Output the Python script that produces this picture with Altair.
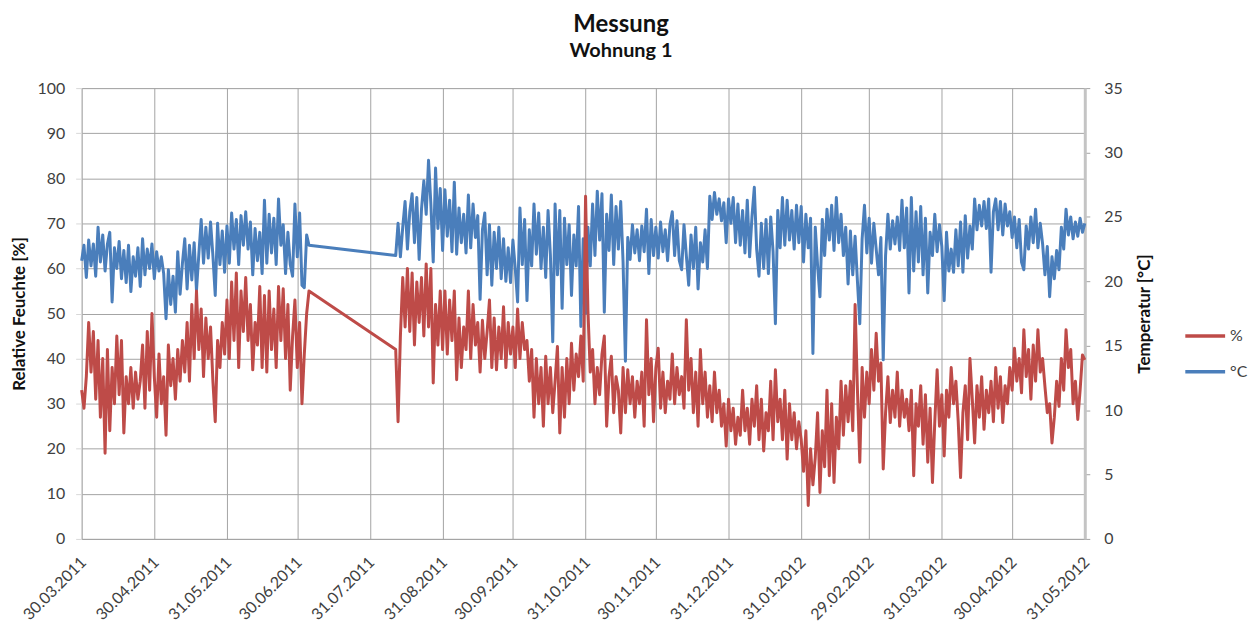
import altair as alt
import pandas as pd

# ---- data (daily readings) ----
SERIES = ["%", "°C"]
COLORS = ["#BE4B48", "#4A7EBB"]

SEG1_START = "2011-03-30"   # first measuring period
SEG2_START = "2011-08-11"   # second measuring period (after the gap)

TEMP_SEG1 = [
    21.6, 22.8, 20.3, 23.2, 21.2, 22.9, 20.4, 24.2, 21.5, 23.6,
    20.8, 22.9, 23.8, 18.4, 22.6, 21.0, 23.1, 20.2, 22.4, 19.9,
    22.8, 19.2, 21.9, 20.4, 22.6, 19.6, 23.3, 20.5, 22.5, 21.0,
    22.9, 20.2, 22.3, 20.8, 21.9, 20.6, 17.1, 20.9, 18.2, 20.4,
    17.6, 22.3, 19.0, 21.4, 23.3, 19.4, 22.8, 20.1, 23.0, 19.3,
    22.1, 24.8, 21.4, 24.2, 21.8, 24.6, 22.0, 18.9, 24.5, 21.3,
    23.9, 20.7, 24.3, 21.4, 25.3, 22.5, 24.8, 21.3, 25.1, 22.8,
    25.4, 22.5, 24.6, 20.5, 24.1, 21.6, 23.8, 20.6, 26.3, 21.4,
    25.2, 22.2, 24.9, 21.3, 26.4, 22.8, 24.4, 20.6, 23.8, 21.3,
    20.4, 26.0, 21.9, 25.3, 19.7, 19.5, 23.6, 22.8,
]

HUM_SEG1 = [
    33, 29, 36, 48, 37, 46, 31, 44, 27, 40,
    19, 42, 24, 38, 30, 45, 32, 44, 23.5, 36,
    30, 38, 29, 37, 31, 35, 43, 29, 46, 33,
    50, 36, 27, 41, 30, 36, 23, 43, 34, 40,
    31, 42, 35, 44, 37, 48, 35, 52, 40, 55,
    42, 51, 36, 49, 40, 47, 35, 26, 44, 38,
    48, 41, 53, 40, 57, 44, 59, 38, 55, 46,
    58, 44, 52, 37.5, 48, 43, 56, 38, 54, 37,
    55, 42, 51, 38, 56, 44, 55.5, 40, 52, 33,
    45, 53, 38, 48, 30, 41, 50, 55,
]

TEMP_SEG2 = [
    22.0, 24.5, 21.9, 24.2, 26.2, 22.5, 25.4, 26.8, 23.0, 26.5,
    21.7, 25.6, 27.8, 25.2, 29.4, 26.0, 21.5, 28.8, 24.1, 27.2,
    22.4, 27.1, 23.5, 26.3, 22.3, 27.7, 22.1, 25.7, 23.0, 25.2,
    22.2, 26.7, 22.6, 26.0, 23.4, 25.1, 18.6, 24.0, 25.3, 20.5,
    24.4, 19.7, 23.8, 21.0, 24.2, 20.2, 23.3, 20.0, 22.6, 19.9,
    23.2, 21.0, 18.4, 25.7, 21.3, 24.8, 18.5, 24.0, 21.2, 26.0,
    22.1, 25.3, 21.0, 24.2, 20.3, 25.5, 22.0, 15.3, 26.0, 20.5,
    25.5, 17.9, 24.9, 21.3, 24.4, 18.9, 23.6, 21.2, 25.8, 16.5,
    23.3, 17.5, 24.2, 21.2, 26.0, 22.0, 27.0, 23.2, 26.8, 17.6,
    25.2, 22.4, 26.7, 21.3, 25.8, 22.5, 26.2, 21.5, 13.8, 23.4,
    21.7, 24.4, 22.2, 24.0, 21.6, 24.3, 22.3, 25.6, 20.6, 24.8,
    22.0, 24.2, 21.8, 24.6, 22.3, 24.0, 21.6, 24.4, 25.4, 22.0,
    24.7, 21.6, 20.9, 24.4, 22.0, 19.7, 23.6, 21.0, 24.2, 19.4,
    23.0, 21.5, 24.0, 21.0, 26.6, 24.8, 26.9, 25.2, 26.4, 24.7,
    26.1, 23.0, 26.4, 24.5, 26.5, 23.0, 26.0, 22.8, 25.5, 22.2,
    26.3, 21.9, 25.0, 27.3, 22.5, 20.4, 24.5, 21.0, 24.8, 20.6,
    25.0, 22.3, 16.7, 25.5, 22.6, 26.5, 22.8, 26.3, 23.2, 25.5,
    22.5, 25.9, 23.0, 25.8, 21.5, 25.2, 22.6, 24.9, 14.4, 24.2,
    21.2, 18.8, 24.8, 22.0, 25.6, 23.2, 25.9, 22.4, 26.5, 23.0,
    25.2, 22.0, 24.2, 19.8, 23.9, 20.5, 23.5, 20.0, 16.7, 23.3,
    25.9, 22.2, 24.9, 21.4, 24.5, 22.5, 20.5, 23.4, 13.9, 22.0,
    25.2, 22.5, 24.7, 22.9, 25.0, 22.4, 26.3, 22.6, 25.7, 19.1,
    26.5, 20.8, 25.4, 21.5, 25.8, 20.5, 24.9, 19.1, 23.8, 22.0,
    25.2, 22.3, 24.4, 22.7, 18.5, 23.8, 20.8, 22.5, 20.7, 24.0,
    21.2, 24.6, 20.7, 25.1, 21.8, 24.3, 22.5, 26.4, 24.0, 25.9,
    24.3, 26.2, 24.1, 26.4, 20.7, 25.4, 26.4, 24.0, 26.2, 23.6,
    26.0, 24.3, 25.4, 23.4, 25.0, 22.6, 24.8, 21.5, 20.9, 24.3,
    22.5, 25.0, 23.0, 25.6, 22.6, 24.5, 22.9, 20.5, 22.7, 18.8,
    21.9, 20.2, 22.4, 20.9, 24.2, 22.5, 25.6, 23.6, 25.0, 23.3,
    24.6, 23.5, 24.9, 23.8, 24.5,
]

HUM_SEG2 = [
    42, 26, 45, 58, 47, 60, 46, 59, 43, 57,
    48, 58, 45, 61, 47, 60, 34.6, 52, 43, 55,
    42, 55, 41, 53, 44, 55, 35.3, 49, 38, 47,
    42, 55, 40, 52, 43, 48, 37, 48.5, 40, 46,
    53, 38, 49, 37.5, 47, 40, 51.5, 38, 48, 41,
    47, 38, 51, 40, 48, 42, 44, 35, 42, 27,
    40, 30, 38, 25, 40.5, 30, 38, 28, 35, 42.7,
    23.5, 38, 27, 40, 30, 43.4, 33, 41, 36, 45,
    35, 76, 50.8, 37, 42, 30, 38, 32, 41, 45,
    25, 36, 40.5, 28, 36, 33, 23.5, 38, 28, 37.5,
    30, 36, 27, 35, 30, 37, 25, 48.6, 32, 40,
    26, 38, 42.3, 29, 37, 28, 35, 31, 41, 30,
    38, 32, 36, 29, 48.6, 33, 40, 28, 37, 25,
    42, 30, 37, 27, 34, 26, 37, 28, 33, 25,
    30, 20.6, 31, 24, 29, 21, 27, 23, 33, 24,
    29, 21, 31, 25, 34, 22, 31, 19.5, 28, 24,
    35, 22, 37.5, 26, 31, 22, 33, 17.7, 30, 22,
    28, 20, 26, 22, 15, 24, 7.4, 20, 12, 18,
    28, 10.3, 24, 16, 33, 14, 30, 12.5, 27, 20,
    35, 23, 34, 26, 35, 24, 52, 33, 17, 38,
    27, 37, 30, 42, 33, 45.6, 35, 39, 15.5, 28,
    36, 25.8, 33, 27, 37, 25, 33, 27, 31, 24,
    33, 14, 30, 25, 34, 21, 32, 17, 29, 12.5,
    26, 37.5, 25, 32, 18.4, 33, 27, 38, 30, 35,
    26, 13.6, 28, 34, 22, 40, 31, 21.3, 34, 27,
    36, 24.3, 33, 28, 35, 26, 38, 29, 36, 25.8,
    34, 30, 38, 33, 42.3, 35, 40, 32.4, 46.4, 36,
    42, 31, 43, 35, 46.4, 37, 40, 33.8, 28, 30,
    21.3, 27, 35, 29.4, 40, 33, 46.4, 38, 42, 30,
    35, 26.5, 33, 40.8, 39.7,
]

# x-axis tick dates (month ends) as (year, month, day)
MONTH_TICKS = [
    (2011, 3, 30), (2011, 4, 30), (2011, 5, 31), (2011, 6, 30),
    (2011, 7, 31), (2011, 8, 31), (2011, 9, 30), (2011, 10, 31),
    (2011, 11, 30), (2011, 12, 31), (2012, 1, 31), (2012, 2, 29),
    (2012, 3, 31), (2012, 4, 30), (2012, 5, 31),
]
HUM_TICKS = list(range(0, 101, 10))
TEMP_TICKS = list(range(0, 36, 5))


def frame(seg1, seg2, name):
    d1 = pd.date_range(SEG1_START, periods=len(seg1), freq="D")
    d2 = pd.date_range(SEG2_START, periods=len(seg2), freq="D")
    return pd.DataFrame({
        "Datum": list(d1) + list(d2),
        "Wert": list(seg1) + list(seg2),
        "Serie": name,
    })


hum = frame(HUM_SEG1, HUM_SEG2, SERIES[0])
temp = frame(TEMP_SEG1, TEMP_SEG2, SERIES[1])

tick_dates = [alt.DateTime(year=y, month=m, date=d) for (y, m, d) in MONTH_TICKS]

FONT = "Lato"
GRID = "#a3a3a3"
LABEL = "#404040"
LINE_W = 3.0

x_enc = alt.X(
    "Datum:T",
    scale=alt.Scale(domain=[tick_dates[0], tick_dates[-1]], nice=False),
    axis=alt.Axis(
        values=tick_dates, format="%d.%m.%Y", title=None,
        labelAngle=-45, labelAlign="right", labelBaseline="top",
        labelPadding=15, labelOffset=-4, labelOverlap=False, labelFlush=False,
        labelFont=FONT, labelFontSize=16, labelColor=LABEL,
        ticks=False, grid=True, gridColor=GRID, gridWidth=1,
        domainColor=GRID, domainWidth=1,
    ),
)

color_enc = alt.Color(
    "Serie:N",
    scale=alt.Scale(domain=SERIES, range=COLORS),
    legend=alt.Legend(
        orient="none", legendX=1107, legendY=227, title=None,
        symbolType="stroke", symbolSize=1600, symbolStrokeWidth=3.5,
        labelFont=FONT, labelFontSize=16, labelColor=LABEL, labelOffset=3,
        rowPadding=6, padding=0,
    ),
)

temp_line = alt.Chart(temp).mark_line(
    strokeWidth=LINE_W, strokeJoin="round"
).encode(
    x=x_enc,
    y=alt.Y(
        "Wert:Q",
        scale=alt.Scale(domain=[0, 35], nice=False, zero=True),
        axis=alt.Axis(
            orient="right", values=TEMP_TICKS, title="Temperatur [°C]",
            grid=False, domainColor="#c4c4c4", domainWidth=3,
            tickColor=GRID, tickSize=5, labelPadding=14, labelFlush=False,
            labelFont=FONT, labelFontSize=16, labelColor=LABEL,
            titleFont=FONT, titleFontSize=17, titleFontWeight="bold", titleColor="#111111",
            titleAngle=-90, titleX=60, titleY=226.5, titleAlign="center",
            titleBaseline="middle",
        ),
    ),
    color=color_enc,
)

hum_line = alt.Chart(hum).mark_line(
    strokeWidth=LINE_W, strokeJoin="round"
).encode(
    x=x_enc,
    y=alt.Y(
        "Wert:Q",
        scale=alt.Scale(domain=[0, 100], nice=False, zero=True),
        axis=alt.Axis(
            orient="left", values=HUM_TICKS, title="Relative Feuchte [%]",
            grid=True, gridColor=GRID, gridWidth=1, domain=False,
            tickColor="#d8d8d8", tickSize=6, labelPadding=11, labelFlush=False,
            labelFont=FONT, labelFontSize=16, labelColor=LABEL,
            titleFont=FONT, titleFontSize=17, titleFontWeight="bold", titleColor="#111111",
            titleAngle=-90, titleX=-62, titleY=226.5, titleAlign="center",
            titleBaseline="middle",
        ),
    ),
    color=color_enc,
)

chart = alt.layer(temp_line, hum_line).resolve_scale(
    y="independent"
).properties(
    width=1008,
    height=453,
    autosize=alt.AutoSizeParams(type="none"),
    padding={"left": 74, "top": 79, "right": 165, "bottom": 84},
    title=alt.TitleParams(
        text="Messung", subtitle="Wohnung 1",
        font=FONT, fontSize=24, fontWeight="bold", color="#111111",
        subtitleFont=FONT, subtitleFontSize=20, subtitleFontWeight="bold",
        subtitleColor="#111111", subtitlePadding=4,
        anchor="middle", frame="group", dx=38, offset=19,
    ),
).configure_view(stroke=None).configure(background="white")

chart.save("out.html", embed_options={"renderer": "svg", "actions": False})
